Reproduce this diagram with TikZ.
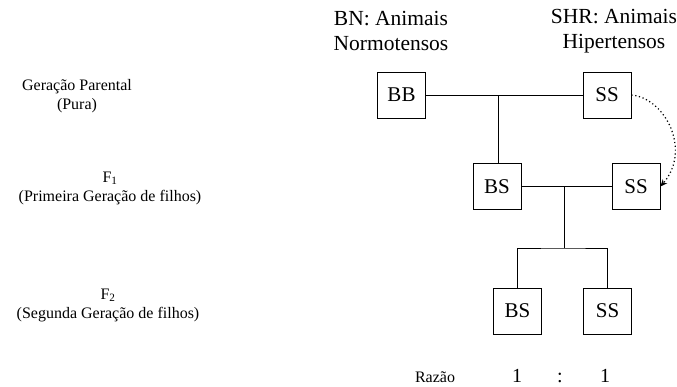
\documentclass[tikz,border=0pt]{standalone}
\usepackage{fontspec}
\setmainfont{Liberation Serif}
\usetikzlibrary{arrows.meta}
\begin{document}
\begin{tikzpicture}[x=1pt,y=-1pt,
  box/.style={draw, line width=0.9pt, minimum width=48pt, minimum height=46pt, inner sep=0pt, font=\fontsize{21}{24}\selectfont},
  head/.style={align=center, font=\fontsize{21.5}{25}\selectfont, inner sep=0pt},
  side/.style={align=center, font=\fontsize{16}{19}\selectfont, inner sep=0pt},
  ratio/.style={font=\fontsize{20}{22}\selectfont, inner sep=0pt, anchor=base},
  link/.style={line width=0.9pt}]
\useasboundingbox (0,0) rectangle (677,386);
% headers
\node[head] (hbn) at (391,31) {BN: Animais\\Normotensos};
\node[head] (hshr) at (614,31) {SHR: Animais\\Hipertensos};
% side labels
\node[side] (lp) at (77,96) {Geração Parental\\(Pura)};
\node[side] (lf1) at (110,188) {F\textsubscript{1}\\(Primeira Geração de filhos)};
\node[side] (lf2) at (108,305) {F\textsubscript{2}\\(Segunda Geração de filhos)};
% boxes
\node[box] (bb) at (401.5,95) {BB};
\node[box] (sst) at (607,95) {SS};
\node[box] (bsm) at (497,186.5) {BS};
\node[box] (ssm) at (636,186.5) {SS};
\node[box] (bsb) at (517.5,311) {BS};
\node[box] (ssb) at (607.5,311) {SS};
% junctions
\coordinate (j1) at (498,95);
\coordinate (j2) at (564,186.5);
\coordinate (j3) at (564,248);
% connectors
\draw[link] (bb.east) -- (sst.west);
\draw[link] (j1) -- (bsm.north -| j1);
\draw[link] (bsm.east) -- (ssm.west);
\draw[link] (j2) -- (j3);
\draw[link] (bsb.north) |- (j3) -| (ssb.north);
\draw[line width=1.2pt, dash pattern=on 1.2pt off 2.6pt, -{Stealth[length=7pt,width=6pt]}]
  (sst.east) .. controls (665,98) and (692,150) .. (ssm.east);
% ratio
\node[ratio, font=\fontsize{16}{18}\selectfont] (rz) at (435,382) {Razão};
\node[ratio] (r1) at (517,382) {1};
\node[ratio] (rc) at (560,382) {:};
\node[ratio] (r2) at (605,382) {1};
\end{tikzpicture}
\end{document}
